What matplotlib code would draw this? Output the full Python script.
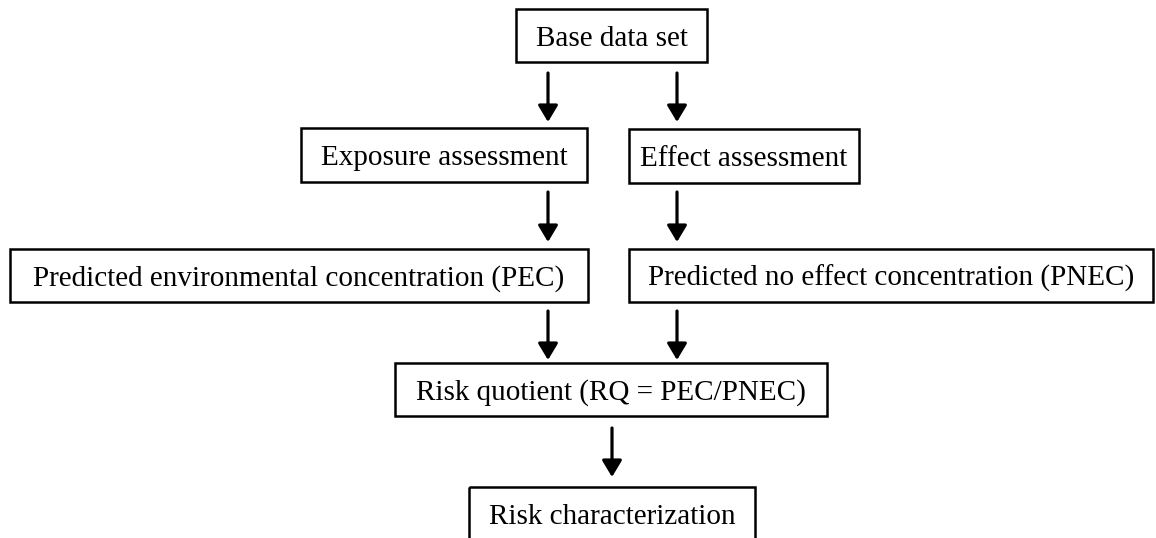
import matplotlib.pyplot as plt
from matplotlib.patches import Rectangle

plt.rcParams['font.family'] = ['Liberation Serif', 'DejaVu Serif']

# box labels of the flow chart
labels = [
    'Base data set',
    'Exposure assessment',
    'Effect assessment',
    'Predicted environmental concentration (PEC)',
    'Predicted no effect concentration (PNEC)',
    'Risk quotient (RQ = PEC/PNEC)',
    'Risk characterization',
]

# box layout in pixels: left, top, right, bottom
boxes = [
    (516, 9, 707, 62),
    (301, 128, 587, 182),
    (629, 129, 859, 183),
    (10, 249, 588, 302),
    (629, 249, 1153, 302),
    (395, 363, 827, 416),
    (469, 487, 755, 560),
]

# arrows: x, y start, y end
arrows = [
    (548, 73, 122), (677, 73, 122),
    (548, 192, 242), (677, 192, 242),
    (548, 311, 360), (677, 311, 360),
    (612, 428, 477),
]

W, H = 1156, 538
fig = plt.figure(figsize=(W / 100, H / 100), dpi=100)
ax = fig.add_axes([0, 0, 1, 1])
ax.set_xlim(0, W)
ax.set_ylim(H, 0)
ax.axis('off')

for text, (x0, y0, x1, y1) in zip(labels, boxes):
    ax.add_patch(Rectangle((x0, y0), x1 - x0, y1 - y0, fill=False,
                           edgecolor='black', linewidth=1.8))
    yc = (y0 + y1) / 2 if y1 < 540 else y0 + 27
    ax.text((x0 + x1) / 2, yc + 3, text, ha='center', va='center', fontsize=21)

for x, ys, ye in arrows:
    ax.annotate('', xy=(x, ye), xytext=(x, ys),
                arrowprops=dict(arrowstyle='-|>,head_length=1.0,head_width=0.6',
                                color='black', lw=2.3, shrinkA=0, shrinkB=0))

fig.savefig('out.png', dpi=100)
